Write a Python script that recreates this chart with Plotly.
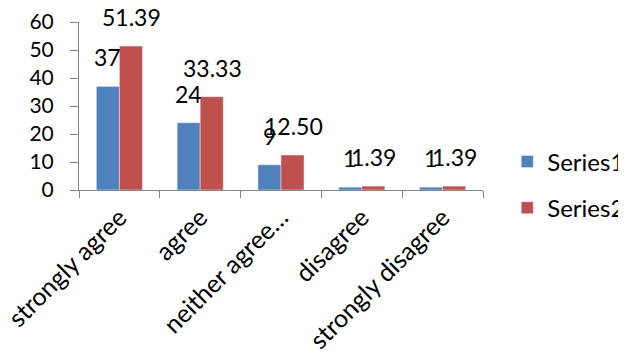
import plotly.graph_objects as go

categories = ["strongly agree", "agree", "neither agree…", "disagree", "strongly disagree"]
series1 = [37, 24, 9, 1, 1]
series2 = [51.39, 33.33, 12.50, 1.39, 1.39]
labels1 = ["37", "24", "9", "1", "1"]
labels2 = ["51.39", "33.33", "12.50", "1.39", "1.39"]

FONT = "Lato, Carlito, Calibri, sans-serif"
BLUE = "#4F81BD"
RED = "#C0504D"

fig = go.Figure()
fig.add_trace(go.Bar(x=categories, y=series1, name="Series1", marker_color=BLUE,
                     legendgroup="a"))
fig.add_trace(go.Bar(x=categories, y=series2, name="Series2", marker_color=RED,
                     legendgroup="b"))

ann = []
for c, v, t in zip(categories, series1, labels1):
    ann.append(dict(x=c, y=v, text=t, showarrow=False, xshift=-12, yshift=13,
                    yanchor="bottom", font=dict(size=23, color="#000", family=FONT)))
for c, v, t in zip(categories, series2, labels2):
    ann.append(dict(x=c, y=v, text=t, showarrow=False, xshift=12, yshift=13,
                    yanchor="bottom", font=dict(size=23, color="#000", family=FONT)))

fig.update_layout(
    width=626, height=356,
    margin=dict(l=71, r=151, t=14, b=174, autoexpand=False),
    plot_bgcolor="white", paper_bgcolor="white",
    barmode="group", bargap=0.43, bargroupgap=0,
    font=dict(family=FONT, size=21, color="#000"),
    annotations=ann,
    showlegend=True,
    legend=dict(x=1.06, y=0.503, xanchor="left", yanchor="middle", yref="container",
                tracegroupgap=12, itemwidth=30, font=dict(size=24, family=FONT)),
    xaxis=dict(type="category", showline=True, linecolor="#868686", linewidth=1,
               ticks="outside", tickson="boundaries", ticklen=7, tickcolor="#868686",
               tickangle=-45, showgrid=False, tickfont=dict(size=25), automargin=False,
               ticklabelstandoff=2),
    yaxis=dict(range=[0, 60], dtick=10, showline=True, linecolor="#868686", linewidth=1,
               ticks="outside", ticklen=8, tickcolor="#868686", showgrid=False,
               zeroline=False, tickfont=dict(size=21), automargin=False,
               ticklabelstandoff=12),
)

fig.write_html("out.html")
